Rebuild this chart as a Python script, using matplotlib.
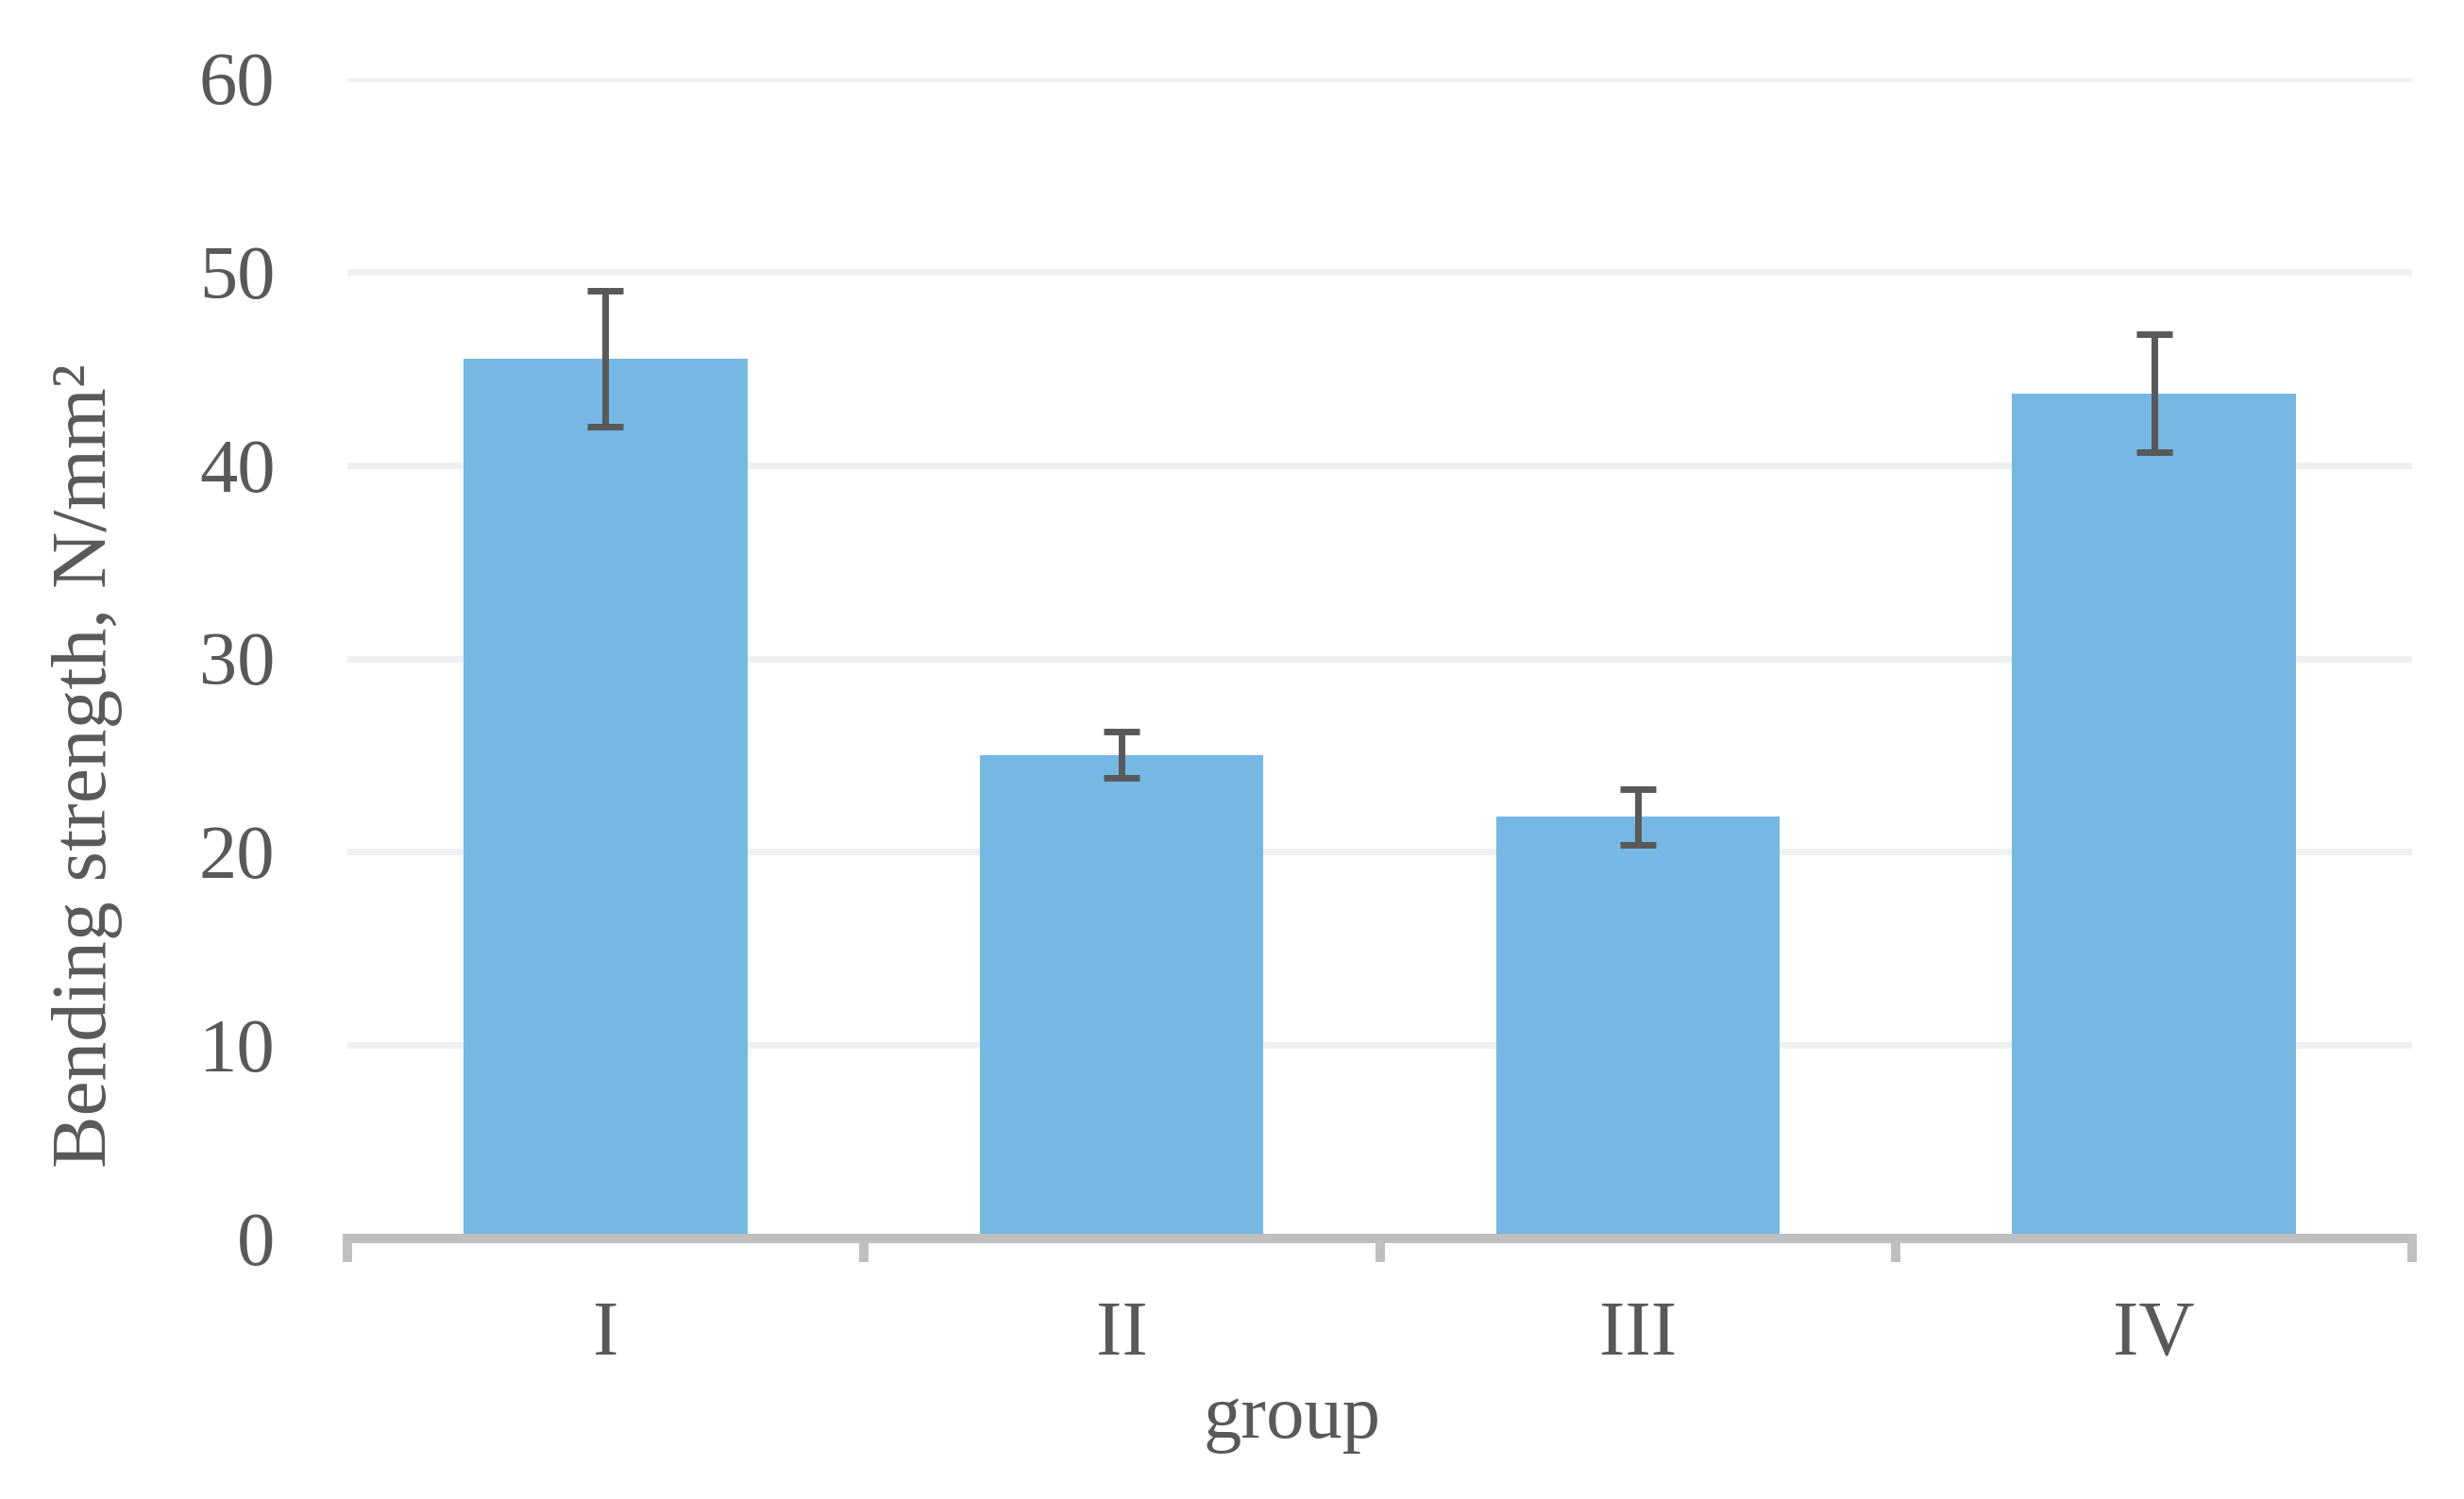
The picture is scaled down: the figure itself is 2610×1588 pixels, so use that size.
import matplotlib.pyplot as plt
import numpy as np

# dados
groups = ['I', 'II', 'III', 'IV']
strength = [45.5, 25.0, 21.8, 43.7]
err = [3.5, 1.2, 1.45, 3.05]

plt.rcParams['font.family'] = ['Liberation Serif', 'DejaVu Serif']
txt_color = '#595959'

fig = plt.figure(figsize=(26.10, 15.88), dpi=100)
ax = fig.add_axes([368 / 2610, 1 - 1312 / 1588, (2555 - 368) / 2610, (1312 - 83) / 1588])

x = np.arange(len(groups))
ax.bar(x, strength, width=0.55, color='#75B8E3', zorder=2)
ax.errorbar(x, strength, yerr=err, fmt='none', ecolor='#595959',
            elinewidth=5, capsize=13.7, capthick=5, zorder=3)

ax.set_xlim(-0.5, len(groups) - 0.5)
ax.set_ylim(0, 60)
ax.set_yticks(np.arange(0, 61, 10))
ax.yaxis.grid(True, color='#F0F0F0', linewidth=5, zorder=0)
ax.set_axisbelow(True)

for s in ['left', 'right', 'top']:
    ax.spines[s].set_visible(False)
ax.spines['bottom'].set_color('#BFBFBF')
ax.spines['bottom'].set_linewidth(7.2)
ax.spines['bottom'].set_zorder(4)

ax.set_xticks(x)
ax.set_xticklabels(groups)
ax.set_xticks(np.arange(-0.5, len(groups), 1.0), minor=True)
ax.tick_params(axis='x', which='major', length=0, pad=47, labelsize=59, labelcolor=txt_color)
ax.tick_params(axis='x', which='minor', length=18, width=7.2, color='#BFBFBF')
ax.tick_params(axis='y', length=0, pad=55, labelsize=58, labelcolor=txt_color)

fig.text(92 / 2610, 1 - 811 / 1588, 'Bending strength, N/mm²', rotation=90,
         ha='center', va='center', fontsize=60, color=txt_color)
fig.text(1368 / 2610, 1 - 1523 / 1588, 'group', ha='center', va='baseline',
         fontsize=58, color=txt_color)

fig.savefig('out.png', dpi=100)
